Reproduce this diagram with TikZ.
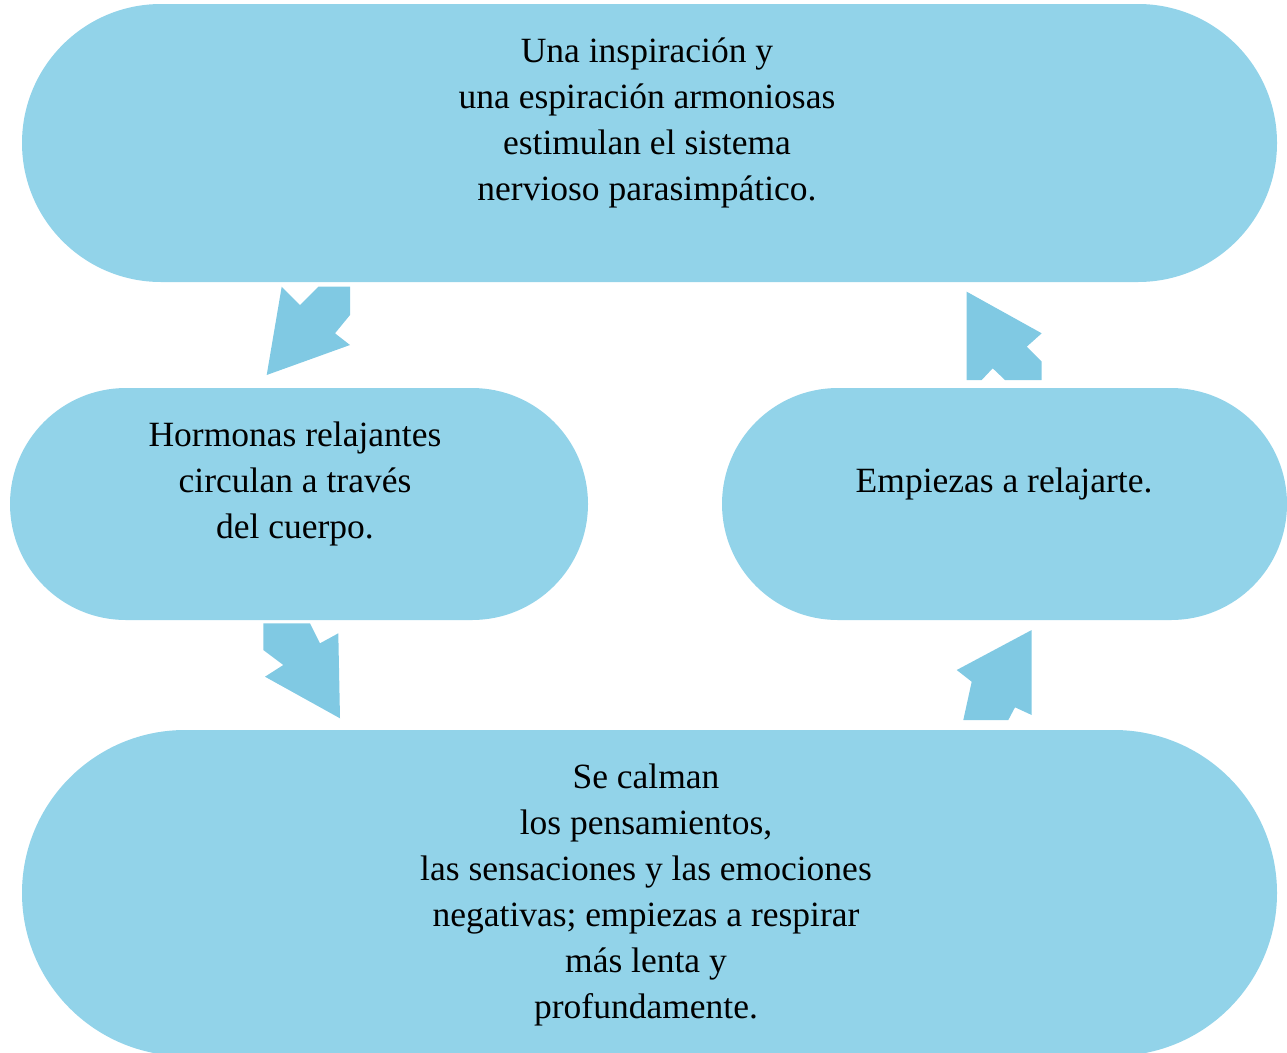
\documentclass[tikz,border=0pt]{standalone}
\usepackage{fontspec}
\setmainfont{Liberation Serif}
\usetikzlibrary{shapes.misc}
\definecolor{boxblue}{HTML}{92D3E9}
\definecolor{arrowblue}{HTML}{80C9E3}
\begin{document}
\begin{tikzpicture}[x=1pt,y=-1pt]
	\tikzstyle{every node}+=[inner sep=0pt]
	\tikzstyle{pill}=[rounded rectangle, fill=boxblue, draw=none]
	\tikzstyle{txt}=[align=center, font=\fontsize{35.5}{46}\selectfont]
	\useasboundingbox (0,0) rectangle (1287,1052);
	\clip (0,0) rectangle (1287,1052);
	% boxes
	\node [pill, minimum width=1255, minimum height=278] (inhale) at (649.5,143) {};
	\node [pill, minimum width=578, minimum height=232] (hormones) at (299,504) {};
	\node [pill, minimum width=565, minimum height=232] (relax) at (1004.5,504) {};
	\node [pill, minimum width=1255, minimum height=326] (calm) at (649.5,893) {};
	% texts
	\node [txt] (inhaletext) at (647,122.5) {Una inspiración y\\una espiración armoniosas\\estimulan el sistema\\nervioso parasimpático.};
	\node [txt] (hormonestext) at (295,484) {Hormonas relajantes\\circulan a través\\del cuerpo.};
	\node [txt] (relaxtext) at (1004,484) {Empiezas a relajarte.};
	\node [txt] (calmtext) at (646,895) {Se calman\\los pensamientos,\\las sensaciones y las emociones\\negativas; empiezas a respirar\\más lenta y\\profundamente.};
	% arrows
	\fill [arrowblue] (266.7,375) -- (281.7,286.7) -- (300,305) -- (318.3,286.7) -- (350,286.7) -- (350,315) -- (335,333.3) -- (350,345) -- cycle;
	\fill [arrowblue] (263.3,623.3) -- (310,623.3) -- (320,643.3) -- (338.3,633.3) -- (340,718.3) -- (265,676.7) -- (283.3,665) -- (263.3,650) -- cycle;
	\fill [arrowblue] (1031.7,630) -- (1031.7,715) -- (1015,707.3) -- (1008.3,720) -- (963.3,720) -- (971.7,681.7) -- (956.7,670) -- cycle;
	\fill [arrowblue] (966.7,291.7) -- (1041.7,333.3) -- (1026.7,346.7) -- (1041.7,361.7) -- (1041.7,380) -- (1005,380) -- (992.7,368.3) -- (981.7,380) -- (966.7,380) -- cycle;
\end{tikzpicture}
\end{document}
